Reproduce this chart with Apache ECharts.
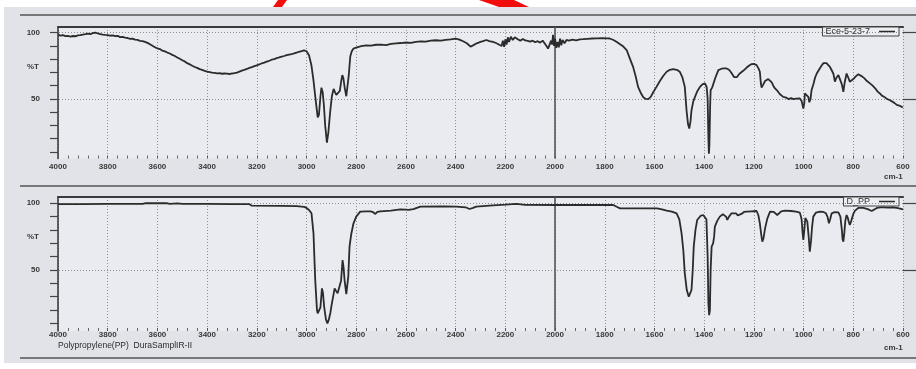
<!DOCTYPE html>
<html>
<head>
<meta charset="utf-8">
<script src="https://cdn.jsdelivr.net/npm/echarts@6/dist/echarts.min.js"></script>
<style>
  html, body { margin: 0; padding: 0; background: #ffffff; }
  #chart { width: 916px; height: 369px; }
</style>
</head>
<body>
<div id="chart"></div>
<script>
// Sample spectrum (upper panel): wavenumber (cm-1) and %T
const eceWn = [4000,3990,3980,3970,3960,3950,3940,3930,3920,3910,3900,3890,3880,3870,3860,3850,3840,3830,3820,3810,3800,3790,3780,3770,3760,3750,3740,3730,3720,3710,3700,3690,3680,3670,3660,3650,3640,3630,3620,3610,3600,3590,3580,3570,3560,3550,3540,3530,3520,3510,3500,3490,3480,3470,3460,3450,3440,3430,3420,3410,3400,3390,3380,3370,3360,3350,3340,3330,3320,3310,3300,3290,3280,3270,3260,3250,3240,3230,3220,3210,3200,3190,3180,3170,3160,3150,3140,3130,3120,3110,3100,3090,3080,3070,3060,3050,3040,3030,3020,3010,3000,2990,2980,2972,2965,2960,2955,2950,2944,2940,2935,2930,2925,2918,2912,2905,2898,2891,2885,2880,2872,2866,2860,2856,2852,2846,2840,2836,2830,2824,2818,2811,2800,2790,2780,2760,2740,2720,2700,2680,2660,2640,2620,2600,2580,2560,2540,2520,2500,2480,2460,2440,2420,2400,2385,2370,2355,2340,2330,2315,2300,2290,2276,2265,2250,2240,2230,2222,2215,2210,2205,2200,2195,2190,2185,2178,2170,2162,2150,2140,2130,2120,2110,2100,2090,2080,2070,2060,2050,2040,2035,2028,2022,2016,2012,2008,2004,2000,1995,1990,1985,1980,1975,1970,1962,1954,1945,1930,1915,1900,1887,1870,1850,1833,1810,1790,1780,1765,1753,1740,1725,1712,1700,1686,1675,1666,1655,1645,1635,1625,1615,1605,1592,1580,1565,1551,1538,1525,1510,1498,1488,1478,1471,1465,1460,1455,1451,1444,1437,1427,1417,1407,1397,1390,1386,1383,1381,1379,1376,1374,1368,1364,1355,1343,1330,1320,1310,1300,1290,1280,1276,1268,1258,1243,1230,1220,1209,1200,1189,1180,1176,1172,1169,1162,1155,1149,1142,1135,1128,1122,1115,1105,1095,1082,1070,1060,1050,1041,1030,1015,1008,1001,997,995,988,981,977,975,972,968,960,954,947,938,928,920,914,908,900,894,888,880,874,868,860,852,846,840,835,827,820,814,807,800,790,780,773,765,755,745,733,722,712,702,693,685,675,665,658,652,645,635,625,615,605,600];
const eceT = [98.5,97.8,98.2,97.4,97.6,97.1,97.5,97.3,97.9,98.1,98.6,98.9,99.3,99.0,99.6,100.1,99.4,99.0,98.6,98.3,98.1,97.7,97.9,97.4,97.6,96.7,96.9,96.3,96.0,95.3,95.5,94.8,94.5,93.9,93.6,93.0,92.3,91.2,90.1,89.0,88.2,87.6,86.4,85.9,85.0,84.3,83.2,82.4,81.3,80.3,79.2,78.3,77.0,76.1,75.0,74.1,73.4,72.5,71.9,71.2,70.6,70.3,69.9,69.6,69.3,69.4,69.0,69.2,69.1,68.8,69.2,69.4,69.9,70.6,71.3,72.0,72.6,73.4,74.0,74.8,75.4,76.0,76.9,77.4,78.2,78.8,79.6,80.1,80.8,81.3,81.9,82.4,83.0,83.5,83.9,84.4,85.0,85.6,86.1,86.7,86.0,83.0,75.0,64,52,44,36,38,52,58.5,55,45,30,17,25,40,52,57.5,55,53,53.5,56,64,68,66,58,52,51.5,68,82,86,88,88.8,89.3,89.8,90.4,90.2,90.9,91.0,90.6,91.5,92.0,92.2,92.6,92.3,93.0,93.5,93.3,94.0,94.3,94.0,94.6,95.0,95.6,94.8,93.5,92.0,89.5,90.4,92.0,93.0,93.6,94.5,93.7,93.0,92.4,91.5,92.0,90.0,94.0,89.4,95.0,91.0,96.5,93.0,97.0,94.5,96.5,95.0,94.0,95.3,94.2,93.8,93.2,94.0,92.8,93.6,92.5,94.0,91.5,92.5,88.0,87.0,94.0,91.0,98.3,90.0,95.5,88.5,93.0,89.0,95.5,90.5,94.5,92.0,94.5,94.0,94.8,94.2,95.0,95.1,95.4,95.6,95.7,95.8,95.7,95.6,94.5,93.2,91.5,89.5,86.9,81.0,74.2,66.5,59.1,54.5,51.3,50.0,49.8,51.5,55.0,59.1,63.0,67.3,70.5,72.0,72.5,72.0,70.5,66.5,59.1,41.4,31.0,27.6,33.0,41.4,48.0,51.5,56.0,59.1,61.0,61.7,59.0,50.0,20.0,8.6,15.0,45.0,56.6,58.5,59.1,66.0,71.7,72.8,73.0,73.0,72.0,69.5,66.5,65.5,66.5,69.0,71.2,73.5,75.0,76.3,76.5,75.5,72.5,70.5,62.0,58.6,61.0,63.5,64.2,65.0,65.5,62.5,60.0,57.9,56.0,53.5,51.5,51.0,49.8,50.6,49.8,50.2,50.3,48.5,42.7,47.0,54.1,53.0,51.5,47.5,46.0,50.0,56.6,61.5,66.0,69.2,72.0,75.0,77.0,78.1,77.0,76.5,74.2,72.0,69.0,63.0,66.0,68.0,64.0,61.0,55.3,62.0,69.2,66.0,63.0,61.7,65.0,67.0,68.6,68.6,67.0,65.5,63.5,61.7,60.0,58.0,55.5,54.1,52.5,51.5,50.0,48.5,49.0,47.5,47.0,45.5,45.0,44.0,43.8];

// Polypropylene reference spectrum (lower panel)
const ppWn = [4000,3900,3800,3700,3660,3650,3560,3550,3520,3500,3400,3300,3230,3220,3100,3040,3010,3000,2990,2980,2972,2965,2958,2955,2948,2944,2938,2934,2929,2922,2916,2910,2904,2898,2892,2887,2880,2875,2867,2861,2855,2851,2847,2840,2837,2832,2827,2820,2811,2800,2784,2760,2743,2732,2723,2715,2703,2660,2623,2600,2590,2582,2570,2542,2450,2397,2360,2344,2330,2317,2250,2200,2156,2120,1994,1766,1750,1739,1700,1590,1570,1551,1530,1511,1500,1491,1484,1478,1470,1462,1456,1451,1446,1442,1435,1428,1415,1404,1396,1391,1386,1383,1380,1377,1374,1370,1364,1360,1357,1347,1337,1325,1317,1312,1307,1300,1290,1283,1272,1265,1259,1250,1240,1229,1210,1189,1182,1176,1170,1166,1161,1155,1146,1135,1120,1112,1106,1098,1090,1075,1050,1030,1015,1008,1004,1001,997,993,990,985,980,975,970,966,961,950,934,920,910,904,898,893,887,875,860,852,846,843,840,836,832,827,822,818,814,808,800,793,780,773,760,745,735,726,718,705,690,679,660,640,620,600];
const ppT = [99.3,99.4,99.5,99.6,99.5,100.0,100.0,99.6,100.0,99.5,99.5,99.4,99.3,98.2,98.0,97.8,97.3,96.5,95.0,92.5,77.5,42.5,20,17.5,16.2,22,36.2,33,22.4,13,10,13,18,25,31,36.2,34,32.5,32,42,57.5,52,42.5,32,31.2,45,67.5,77,85,90,93.7,94,94,93.3,92,93.5,94,94.5,95.5,95.3,95,94.8,95.6,97.5,97.6,97.5,97,95.7,96.5,97.5,98.5,99,99.5,98.8,98.7,98.7,97.2,96.2,96.2,96.2,95.5,94.5,93.8,92.5,88,77.5,65,47.5,35,30,30.5,35,50,67.5,80,87.5,90.5,91.2,90.5,88,60,25,16.2,20,50,67.5,70,75,82.5,87,90,91.8,92.5,90,87.5,90,92.5,93.2,92.5,91,90,92,93.5,93.7,94,94.2,91,85,76,71.2,74,81.2,88.5,93.7,93.5,92.5,91.2,92.5,94,94.5,94.2,93.7,93,88,78,72.5,80,89,88.5,86.2,76,63.7,72,82,90,93,93.7,93.5,92.5,90,85,88,92.5,93.3,93.2,90,80,73,71.2,78,87,91.2,89,86,83.7,87,92,94.5,96.5,97,96.5,95.8,95,94.2,95.3,96.5,97,97,96.7,96.9,96.4,95.5];

const seriesNames = ['Ece-5-23-7', 'D_PP'];
const yTickValues = [10, 20, 30, 40, 50, 60, 70, 80, 90, 100];
const yLabelValues = [50, 100];
const footnote = 'Polypropylene(PP)  DuraSamplIR-II';
const unitLabel = 'cm-1';
const yName = '%T';

const FONT = '"Liberation Sans", Arial, sans-serif';
const INK = '#2b2b2b';
const TXT = '#383838';
const DOT = '#8d8f95';

const pairs = (xs, ys) => xs.map((x, i) => [x, ys[i]]);

const chart = echarts.init(document.getElementById('chart'), null, { renderer: 'canvas' });

const grids = [
  { left: 58, top: 27, width: 845, height: 131.5, yMin: 5, yMax: 104.3, labelMargin: 4.5 },
  { left: 58, top: 197, width: 845, height: 134, yMin: 4.3, yMax: 104.7, labelMargin: 0 }
];

const xAxes = [];
const yAxes = [];
grids.forEach((g, i) => {
  // bottom wavenumber axis
  xAxes.push({
    gridIndex: i, type: 'value', min: 600, max: 4000, interval: 200, inverse: true,
    axisLine: { show: false },
    axisTick: { show: true, inside: true, length: 3, lineStyle: { color: '#555', width: 1 } },
    minorTick: { show: true, splitNumber: 5, length: 3, lineStyle: { color: '#666', width: 1 } },
    splitLine: { show: true, lineStyle: { color: DOT, width: 1, type: [1, 2] } },
    axisLabel: {
      fontFamily: FONT, fontSize: 8, fontWeight: 'bold', color: TXT, margin: g.labelMargin,
      showMinLabel: true, showMaxLabel: true, formatter: v => String(v)
    }
  });
  // top frame line
  xAxes.push({
    gridIndex: i, type: 'value', min: 600, max: 4000, inverse: true, position: 'top',
    axisLine: { show: true, lineStyle: { color: '#3a3a3a', width: 2 } },
    axisTick: { show: false }, axisLabel: { show: false }, splitLine: { show: false }
  });
  yAxes.push({
    gridIndex: i, type: 'value', min: g.yMin, max: g.yMax,
    axisLine: { show: true, lineStyle: { color: '#333', width: 1.5 } },
    axisTick: { show: true, customValues: yTickValues, length: 8, lineStyle: { color: '#444', width: 1.2 } },
    axisLabel: {
      customValues: yLabelValues, fontFamily: FONT, fontSize: 8, fontWeight: 'bold', color: TXT,
      margin: 18, formatter: v => String(v)
    },
    splitLine: { show: false }
  });
  yAxes.push({
    gridIndex: i, type: 'value', min: g.yMin, max: g.yMax,
    axisLine: { show: false },
    axisTick: { show: true, customValues: yLabelValues, length: 16, lineStyle: { color: '#444', width: 1.2 } },
    axisLabel: { show: false },
    splitLine: { show: false }
  });
});

const refLines = {
  silent: true, symbol: 'none', animation: false,
  label: { show: false },
  lineStyle: { color: DOT, width: 1, type: [1, 2] },
  data: [
    { yAxis: 100 }, { yAxis: 50 },
    { xAxis: 2000, lineStyle: { color: '#555', width: 1.6, type: 'solid' } }
  ]
};

const series = [
  {
    name: seriesNames[0], type: 'line', xAxisIndex: 0, yAxisIndex: 0,
    data: pairs(eceWn, eceT), symbol: 'none', showSymbol: false,
    lineStyle: { color: INK, width: 1.8 }, itemStyle: { color: INK },
    markLine: refLines, z: 5
  },
  {
    name: seriesNames[1], type: 'line', xAxisIndex: 2, yAxisIndex: 2,
    data: pairs(ppWn, ppT), symbol: 'none', showSymbol: false,
    lineStyle: { color: INK, width: 1.8 }, itemStyle: { color: INK },
    markLine: refLines, z: 5
  }
];

const legendBox = (name, top) => ({
  data: [name], right: 17, top: top, align: 'right', orient: 'horizontal',
  icon: 'rect', itemWidth: 16, itemHeight: 1.5, itemGap: 0,
  padding: [0, 4, 0, 3], borderColor: '#444', borderWidth: 1, borderRadius: 0,
  backgroundColor: '#eceef2',
  textStyle: { fontFamily: FONT, fontSize: 9, color: '#333', lineHeight: 9, padding: [0, 4, 0, 0] },
  selectedMode: false
});

const framePath = (y) => ({
  type: 'line', silent: true, z: 1,
  shape: { x1: 20, y1: y, x2: 916, y2: y },
  style: { stroke: '#555', lineWidth: 1.5 }
});

const labelFont = 'bold 8px ' + FONT;

const option = {
  animation: false,
  backgroundColor: '#ffffff',
  grid: grids.map(g => ({
    left: g.left, top: g.top, width: g.width, height: g.height,
    show: true, backgroundColor: '#e9ebf0', borderWidth: 0
  })),
  xAxis: xAxes,
  yAxis: yAxes,
  legend: [legendBox(seriesNames[0], 27), legendBox(seriesNames[1], 197)],
  series: series,
  graphic: [
    { type: 'rect', silent: true, z: -10, shape: { x: 4, y: 7, width: 912, height: 356 }, style: { fill: '#e1e3e9' } },
    framePath(15), framePath(186), framePath(358),
    { type: 'polygon', silent: true, z: 10, shape: { points: [[278, 0], [287, 0], [282, 7], [273, 7]] }, style: { fill: '#f20d0d' } },
    { type: 'polygon', silent: true, z: 10, shape: { points: [[479, 0], [514, 0], [529, 7], [499, 7]] }, style: { fill: '#f20d0d' } },
    { type: 'text', silent: true, z: 10, left: 27, top: 63, style: { text: yName, font: labelFont, fill: TXT } },
    { type: 'text', silent: true, z: 10, left: 27, top: 233, style: { text: yName, font: labelFont, fill: TXT } },
    { type: 'text', silent: true, z: 10, left: 884, top: 173, style: { text: unitLabel, font: labelFont, fill: TXT } },
    { type: 'text', silent: true, z: 10, left: 884, top: 344, style: { text: unitLabel, font: labelFont, fill: TXT } },
    { type: 'text', silent: true, z: 10, left: 58, top: 341, style: { text: footnote, font: '8.5px ' + FONT, fill: INK } }
  ]
};

chart.setOption(option);
</script>
</body>
</html>
